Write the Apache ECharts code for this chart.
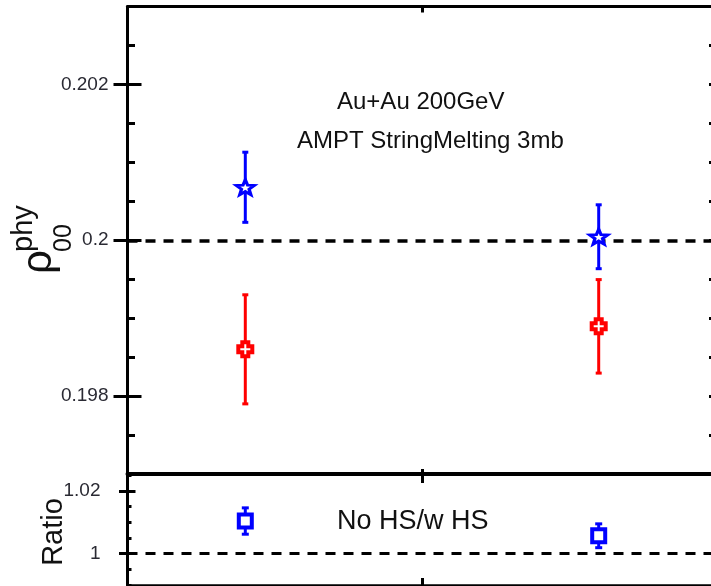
<!DOCTYPE html>
<html>
<head>
<meta charset="utf-8">
<script src="https://cdn.jsdelivr.net/npm/echarts@6/dist/echarts.min.js"></script>
<style>
  html, body { margin: 0; padding: 0; background: #fff; }
  #chart { width: 711px; height: 586px; }
</style>
</head>
<body>
<div id="chart"></div>
<script>
// Two centrality-like bins drawn at fixed x positions
const xPositions = [0.2, 0.8];

// rho_00^phy without hadronic scattering (blue stars)
const noHsRho = [0.20068, 0.200045];
const noHsErr = [0.00045, 0.00041];

// rho_00^phy with hadronic scattering (red crosses)
const wHsRho = [0.19860, 0.198895];
const wHsErr = [0.00070, 0.00060];

// Ratio No HS / w HS (blue squares)
const ratioVals = [1.0104, 1.0057];
const ratioErr = [0.0042, 0.0038];

// Reference levels and tick labels
const rhoReference = 0.2;
const ratioReference = 1;
const rhoMajorTicks = [0.198, 0.2, 0.202];
const ratioMajorTicks = [1, 1.02];

const FONT = '"Liberation Sans", Arial, sans-serif';
const BLUE = '#0000ff';
const RED = '#ff0000';

function starPath() {
  const pts = [];
  for (let k = 0; k < 10; k++) {
    const ang = -Math.PI / 2 + k * Math.PI / 5;
    const r = k % 2 ? 0.42 : 1;
    pts.push((50 + 50 * r * Math.cos(ang)).toFixed(2) + ',' + (50 + 50 * r * Math.sin(ang)).toFixed(2));
  }
  return 'path://M' + pts.join('L') + 'Z';
}
const crossPath = 'path://M28.5,0H71.5V28.5H100V71.5H71.5V100H28.5V71.5H0V28.5H28.5Z';

function triples(vals, errs) {
  return xPositions.map((x, i) => [x, vals[i], errs[i]]);
}

function errorBars(color, capHalf) {
  return function (params, api) {
    const x = api.value(0), y = api.value(1), e = api.value(2);
    const top = api.coord([x, y + e]);
    const bot = api.coord([x, y - e]);
    const st = { stroke: color, lineWidth: 3 };
    return {
      type: 'group',
      children: [
        { type: 'line', shape: { x1: top[0], y1: top[1], x2: bot[0], y2: bot[1] }, style: st },
        { type: 'line', shape: { x1: top[0] - capHalf, y1: top[1], x2: top[0] + capHalf, y2: top[1] }, style: st },
        { type: 'line', shape: { x1: bot[0] - capHalf, y1: bot[1], x2: bot[0] + capHalf, y2: bot[1] }, style: st }
      ]
    };
  };
}

function xAxisDef(gridIndex, position, lineWidth, tickLen, showLine) {
  return {
    type: 'value', gridIndex, position, min: 0, max: 1, interval: 0.5,
    axisLine: { show: showLine, onZero: false, lineStyle: { color: '#000', width: lineWidth } },
    axisTick: { show: true, inside: true, length: tickLen, lineStyle: { color: '#000', width: 3 } },
    axisLabel: { show: false }, splitLine: { show: false }
  };
}

function rhoLabel(v) {
  const k = Math.round(v * 1000);
  if (Math.abs(v * 1000 - k) < 1e-6 && k % 2 === 0) return String(k / 1000);
  return '';
}
function ratioLabel(v) {
  const k = Math.round(v * 100);
  if (Math.abs(v * 100 - k) < 1e-6 && k % 2 === 0) return String(k / 100);
  return '';
}

function minorY(gridIndex, position, min, max, interval, tickLen, showLabels, formatter, margin) {
  return {
    type: 'value', gridIndex, position, min, max, interval,
    axisLine: { show: true, onZero: false, lineStyle: { color: '#000', width: 3 } },
    axisTick: { show: true, inside: true, length: tickLen, lineStyle: { color: '#000', width: 3 } },
    axisLabel: { show: showLabels, formatter, margin, fontSize: 19, color: '#2a2a33', fontFamily: FONT },
    splitLine: { show: false }
  };
}
function majorY(gridIndex, position, min, max, values, tickLen) {
  return {
    type: 'value', gridIndex, position, min, max,
    axisLine: { show: false },
    axisTick: { show: true, inside: true, length: tickLen, customValues: values, lineStyle: { color: '#000', width: 3 } },
    axisLabel: { show: false },
    splitLine: { show: false }
  };
}

const chart = echarts.init(document.getElementById('chart'), null, { renderer: 'canvas' });

const option = {
  animation: false,
  backgroundColor: '#fff',
  grid: [
    { left: 127.5, top: 6.5, width: 589, height: 467.5, outerBoundsMode: 'none', containLabel: false },
    { left: 127.5, top: 474, width: 589, height: 111, outerBoundsMode: 'none', containLabel: false }
  ],
  xAxis: [
    xAxisDef(0, 'bottom', 4, 5, true),
    xAxisDef(0, 'top', 3, 6, true),
    xAxisDef(1, 'bottom', 2.5, 7, true),
    xAxisDef(1, 'top', 3, 9, false)
  ],
  yAxis: [
    minorY(0, 'left', 0.197, 0.203, 0.0005, 7.5, true, rhoLabel, 19),
    majorY(0, 'left', 0.197, 0.203, rhoMajorTicks, 14),
    minorY(0, 'right', 0.197, 0.203, 0.0005, 7.5, false, rhoLabel, 19),
    majorY(0, 'right', 0.197, 0.203, rhoMajorTicks, 14),
    minorY(1, 'left', 0.99, 1.0254, 0.005, 4, true, ratioLabel, 27),
    majorY(1, 'left', 0.99, 1.0254, ratioMajorTicks, 8),
    minorY(1, 'right', 0.99, 1.0254, 0.005, 4, false, ratioLabel, 27),
    majorY(1, 'right', 0.99, 1.0254, ratioMajorTicks, 8.5)
  ],
  series: [
    {
      type: 'custom', xAxisIndex: 0, yAxisIndex: 0, z: 3,
      renderItem: errorBars(BLUE, 3), data: triples(noHsRho, noHsErr),
      markLine: {
        silent: true, symbol: 'none', label: { show: false },
        lineStyle: { color: '#000', width: 3.5, type: [10, 8] },
        data: [{ yAxis: rhoReference }]
      }
    },
    {
      type: 'custom', xAxisIndex: 0, yAxisIndex: 0, z: 3,
      renderItem: errorBars(RED, 3), data: triples(wHsRho, wHsErr)
    },
    {
      type: 'scatter', xAxisIndex: 0, yAxisIndex: 0, z: 5,
      symbol: starPath(), symbolSize: [18, 15],
      itemStyle: { color: '#fff', borderColor: BLUE, borderWidth: 3, opacity: 1 },
      data: xPositions.map((x, i) => [x, noHsRho[i]])
    },
    {
      type: 'scatter', xAxisIndex: 0, yAxisIndex: 0, z: 5,
      symbol: crossPath, symbolSize: 14,
      itemStyle: { color: '#fff', borderColor: RED, borderWidth: 4, opacity: 1 },
      data: xPositions.map((x, i) => [x, wHsRho[i]])
    },
    {
      type: 'custom', xAxisIndex: 2, yAxisIndex: 4, z: 3,
      renderItem: errorBars(BLUE, 3.5), data: triples(ratioVals, ratioErr),
      markLine: {
        silent: true, symbol: 'none', label: { show: false },
        lineStyle: { color: '#000', width: 3, type: [10, 8] },
        data: [{ yAxis: ratioReference }]
      }
    },
    {
      type: 'scatter', xAxisIndex: 2, yAxisIndex: 4, z: 5,
      symbol: 'rect', symbolSize: 13,
      itemStyle: { color: '#fff', borderColor: BLUE, borderWidth: 4, opacity: 1 },
      data: xPositions.map((x, i) => [x, ratioVals[i]])
    }
  ],
  graphic: [
    {
      type: 'text', left: 337, top: 90,
      style: { text: 'Au+Au 200GeV', font: '24px ' + FONT, fill: '#111' }
    },
    {
      type: 'text', left: 297, top: 129,
      style: { text: 'AMPT StringMelting 3mb', font: '24px ' + FONT, fill: '#111' }
    },
    {
      type: 'text', left: 337, top: 508,
      style: { text: 'No HS/w HS', font: '27px ' + FONT, fill: '#111' }
    },
    {
      // axis title: rho with superscript "phy" and subscript "00", reading upward
      type: 'group', x: 50, y: 274, rotation: Math.PI / 2,
      children: [
        { type: 'text', x: 0, y: -32, style: { text: 'ρ', font: '42px ' + FONT, fill: '#111', verticalAlign: 'top' } },
        { type: 'text', x: 22, y: -41, style: { text: 'phy', font: '29px ' + FONT, fill: '#111', verticalAlign: 'top' } },
        { type: 'text', x: 22, y: 2, style: { text: '00', font: '25px ' + FONT, fill: '#111', verticalAlign: 'top' } }
      ]
    },
    {
      type: 'text', x: 39, y: 532, rotation: Math.PI / 2,
      style: { text: 'Ratio', font: '29px ' + FONT, fill: '#111', align: 'center', verticalAlign: 'top' }
    }
  ]
};

chart.setOption(option);
</script>
</body>
</html>
